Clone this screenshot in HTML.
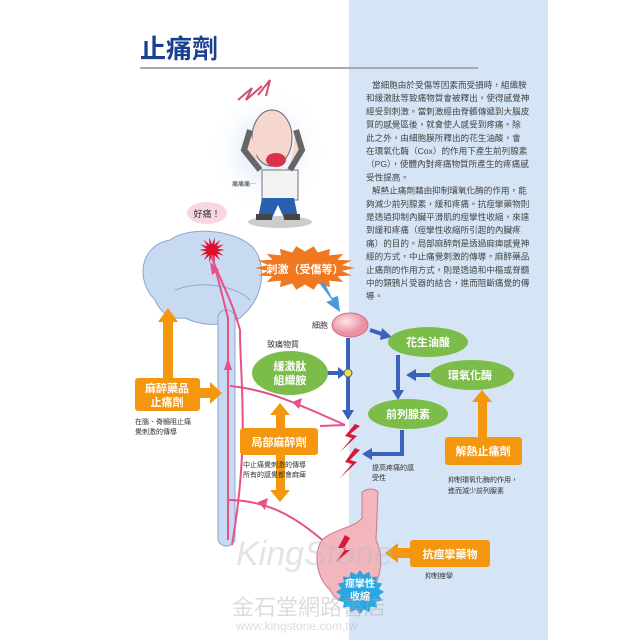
<!DOCTYPE html>
<html><head><meta charset="utf-8"><style>
body{margin:0;background:#fff}
svg{display:block}
text{font-family:"Liberation Sans","Noto Sans CJK TC",sans-serif}
</style></head><body>
<svg id="s" width="640" height="640" viewBox="0 0 640 640" xmlns="http://www.w3.org/2000/svg">
<defs>
<radialGradient id="halo"><stop offset="0" stop-color="#c9dcf2"/><stop offset="1" stop-color="#fff" stop-opacity="0"/></radialGradient>
<radialGradient id="cell" cx=".4" cy=".35"><stop offset="0" stop-color="#fde6ea"/><stop offset="1" stop-color="#ec8fa0"/></radialGradient>
</defs>
<rect x="349" y="0" width="199" height="640" fill="#d6e5f5"/>
<text x="140" y="58" font-size="26" font-weight="bold" fill="#1a3f8f">止痛劑</text>
<line x1="140" y1="68" x2="478" y2="68" stroke="#aaa" stroke-width="2"/>
<g font-size="8.6" fill="#444">
<text x="372" y="88">當細胞由於受傷等因素而受損時，組織胺</text>
<text x="366" y="101.2">和緩激肽等致痛物質會被釋出，使得感覺神</text>
<text x="366" y="114.4">經受到刺激。當刺激經由脊髓傳遞到大腦皮</text>
<text x="366" y="127.6">質的感覺區後，就會使人感受到疼痛。除</text>
<text x="366" y="140.8">此之外，由細胞膜所釋出的花生油酸，會</text>
<text x="366" y="154">在環氧化酶（Cox）的作用下產生前列腺素</text>
<text x="366" y="167.2">（PG），使體內對疼痛物質所產生的疼痛感</text>
<text x="366" y="180.4">受性提高。</text>
<text x="372" y="193.6">解熱止痛劑藉由抑制環氧化酶的作用，能</text>
<text x="366" y="206.8">夠減少前列腺素，緩和疼痛。抗痙攣藥物則</text>
<text x="366" y="220">是透過抑制內臟平滑肌的痙攣性收縮，來達</text>
<text x="366" y="233.2">到緩和疼痛（痙攣性收縮所引起的內臟疼</text>
<text x="366" y="246.4">痛）的目的。局部麻醉劑是透過麻痺感覺神</text>
<text x="366" y="259.6">經的方式，中止痛覺刺激的傳導。麻醉藥品</text>
<text x="366" y="272.8">止痛劑的作用方式，則是透過和中樞或脊髓</text>
<text x="366" y="286">中的類鴉片受器的結合，進而阻斷痛覺的傳</text>
<text x="366" y="299.2">導。</text>
</g>
<!-- man -->
<ellipse cx="268" cy="150" rx="60" ry="65" fill="url(#halo)"/>
<ellipse cx="280" cy="222" rx="32" ry="6" fill="#ccc"/>
<path d="M238 100 L252 88 L246 100 L262 86 M258 95 L270 80 L266 96" stroke="#d05070" fill="none" stroke-width="2"/>
<rect x="262" y="170" width="36" height="30" fill="#f2f2f2" stroke="#777"/>
<path d="M262 198 L258 218 L272 218 L278 205 L284 218 L298 218 L294 198z" fill="#2a5fb0"/>
<rect x="256" y="214" width="16" height="6" fill="#444"/><rect x="284" y="214" width="16" height="6" fill="#444"/>
<ellipse cx="272" cy="138" rx="20" ry="28" fill="#f5d7d0" stroke="#666"/>
<ellipse cx="276" cy="160" rx="10" ry="7" fill="#d8334a"/>
<path d="M250 130 L244 150 L260 170 M296 130 L302 150 L290 170" stroke="#666" fill="#f5d7d0" stroke-width="6"/>
<text x="232" y="186" font-size="6" fill="#333">痛痛痛⋯</text>
<!-- brain -->
<ellipse cx="207" cy="213" rx="20" ry="11" fill="#f8d6e2"/>
<text x="207" y="217" font-size="9" fill="#333" text-anchor="middle">好痛！</text>
<path d="M155 300 C135 280 140 245 170 240 C190 225 240 230 255 250 C268 270 262 300 240 318 C220 328 200 325 185 318 C170 320 160 312 155 300z" fill="#c8daf2" stroke="#8fa7c8"/>
<path d="M175 290 C200 280 235 285 250 300" stroke="#8fa7c8" fill="none"/>
<rect x="218" y="310" width="17" height="236" rx="8" fill="#c8daf2" stroke="#8fa7c8"/>
<polygon id="red" fill="#e0102a"/>
<path d="M228 540 L228 318 L212 255" stroke="#e8508a" stroke-width="2" fill="none"/>
<path d="M232 545 C250 440 240 380 240 330 C232 300 220 280 212 258" stroke="#e8508a" stroke-width="2" fill="none"/>
<path d="M228 500 C270 500 300 520 328 545" stroke="#e8508a" stroke-width="2" fill="none"/>
<path d="M230 386 C270 390 300 405 345 425" stroke="#e8508a" stroke-width="2" fill="none"/>
<path d="M345 425 L320 426" stroke="#e8508a" stroke-width="2"/>
<g fill="#e8508a">
<path d="M224 370 L228 358 L232 370z"/>
<path d="M212 275 L210 262 L219 270z"/>
<path d="M292 402 L302 398 L299 409z"/>
<path d="M258 502 L268 498 L265 510z"/>
</g>
<!-- orange burst -->
<polygon id="org" fill="#f07820"/>
<text x="305" y="273" font-size="11" font-weight="bold" fill="#fff" text-anchor="middle">刺激（受傷等）</text>
<path d="M320 284 L332 300 L326 302 L340 312 L338 296 L332 298 L324 282z" fill="#4a9ad8"/>
<!-- flow -->
<ellipse cx="350" cy="325" rx="18" ry="12" fill="url(#cell)" stroke="#d07080"/>
<text x="320" y="328" font-size="8" fill="#333" text-anchor="middle">細胞</text>
<g stroke="#3a62b8" stroke-width="4" fill="none">
<line x1="348" y1="338" x2="348" y2="412"/>
<line x1="370" y1="330" x2="385" y2="335"/>
<line x1="398" y1="355" x2="398" y2="392"/>
<line x1="430" y1="375" x2="414" y2="375"/>
<line x1="326" y1="373" x2="340" y2="373"/>
<polyline points="402,430 402,454 370,454"/>
</g>
<g fill="#3a62b8">
<path d="M342 410 L354 410 L348 420z"/><path d="M382 328 L392 337 L380 340z"/>
<path d="M392 390 L404 390 L398 400z"/><path d="M416 369 L416 381 L406 375z"/>
<path d="M338 367 L338 379 L346 373z"/><path d="M372 448 L372 460 L362 454z"/>
</g>
<circle cx="348" cy="373" r="4" fill="#f5e030" stroke="#3a62b8"/>
<g fill="#7cbd4a">
<ellipse cx="428" cy="342" rx="40" ry="15"/><ellipse cx="472" cy="375" rx="42" ry="15"/>
<ellipse cx="408" cy="414" rx="40" ry="15"/><ellipse cx="290" cy="373" rx="38" ry="22"/>
</g>
<g fill="#fff" font-size="11" font-weight="bold" text-anchor="middle">
<text x="428" y="346">花生油酸</text><text x="470" y="379">環氧化酶</text>
<text x="408" y="418">前列腺素</text><text x="290" y="370">緩激肽</text><text x="290" y="384">組織胺</text>
</g>
<text x="283" y="347" font-size="8" fill="#333" text-anchor="middle">致痛物質</text>
<path d="M355 424 L345 436 L352 438 L340 452 L357 436 L350 434 L360 426z M355 448 L345 462 L352 464 L340 478 L357 462 L350 460 L360 450z" fill="#d81a3a"/>
<text x="372" y="470" font-size="7" fill="#333">提高疼痛的感</text><text x="372" y="480" font-size="7" fill="#333">受性</text>
<!-- orange boxes & arrows -->
<g fill="#f4960e">
<rect x="163" y="318" width="10" height="62"/><path d="M158 322 L168 308 L178 322z"/>
<rect x="200" y="388" width="12" height="10"/><path d="M210 382 L222 393 L210 404z"/>
<rect x="135" y="378" width="65" height="33" rx="3"/>
<rect x="276" y="412" width="9" height="84"/><path d="M270 415 L280 403 L290 415z"/><path d="M270 490 L280 502 L290 490z"/>
<rect x="240" y="428" width="78" height="27" rx="3"/>
<rect x="478" y="400" width="9" height="38"/><path d="M472 402 L482 390 L492 402z"/>
<rect x="445" y="437" width="77" height="28" rx="3"/>
<rect x="395" y="548" width="15" height="10"/><path d="M398 543 L385 553 L398 563z"/>
<rect x="410" y="540" width="80" height="27" rx="3"/>
</g>
<g fill="#fff" font-size="11" font-weight="bold" text-anchor="middle">
<text x="167" y="392">麻醉藥品</text><text x="167" y="406">止痛劑</text>
<text x="279" y="446">局部麻醉劑</text><text x="483" y="455">解熱止痛劑</text>
<text x="450" y="558">抗痙攣藥物</text>
</g>
<g font-size="7" fill="#333">
<text x="135" y="424">在腦、脊髓阻止痛</text><text x="135" y="434">覺刺激的傳導</text>
<text x="243" y="467">中止痛覺刺激的傳導</text><text x="243" y="477">所有的感覺都會麻痺</text>
<text x="448" y="482">抑制環氧化酶的作用，</text><text x="448" y="493">進而減少前列腺素</text>
<text x="425" y="578">抑制痙攣</text>
</g>
<!-- stomach -->
<path d="M362 492 C368 488 374 488 378 492 L376 540 C386 560 380 590 360 600 C345 606 335 600 330 590 C318 580 312 555 322 540 C335 528 355 528 362 518z" fill="#f3b6bf" stroke="#c87888"/>
<path d="M345 535 L338 548 L346 548 L336 562 L350 550 L343 550 L350 538z" fill="#d81a3a"/>
<polygon id="blu" fill="#2aa6e0"/>
<text x="360" y="587" font-size="10" font-weight="bold" fill="#fff" text-anchor="middle">痙攣性</text>
<text x="360" y="600" font-size="10" font-weight="bold" fill="#fff" text-anchor="middle">收縮</text>
<text x="236" y="565" font-size="34" fill="#bbb" opacity=".4" font-style="italic">KingStone</text>
<text x="232" y="615" font-size="22" fill="#aaa" opacity=".4">金石堂網路書店</text>
<text x="236" y="630" font-size="12" fill="#aaa" opacity=".4">www.kingstone.com.tw</text>
</svg>
<script>
function star(id,cx,cy,rx,ry,n,k){var p=[];for(var i=0;i<2*n;i++){var a=Math.PI*i/n,f=i%2?k:1;p.push((cx+rx*f*Math.cos(a)).toFixed(1)+','+(cy+ry*f*Math.sin(a)).toFixed(1));}document.getElementById(id).setAttribute('points',p.join(' '));}
star('red',212,250,13,13,14,0.45);
star('org',305,268,50,22,18,0.75);
star('blu',360,592,24,22,16,0.8);
</script>
</body></html>
